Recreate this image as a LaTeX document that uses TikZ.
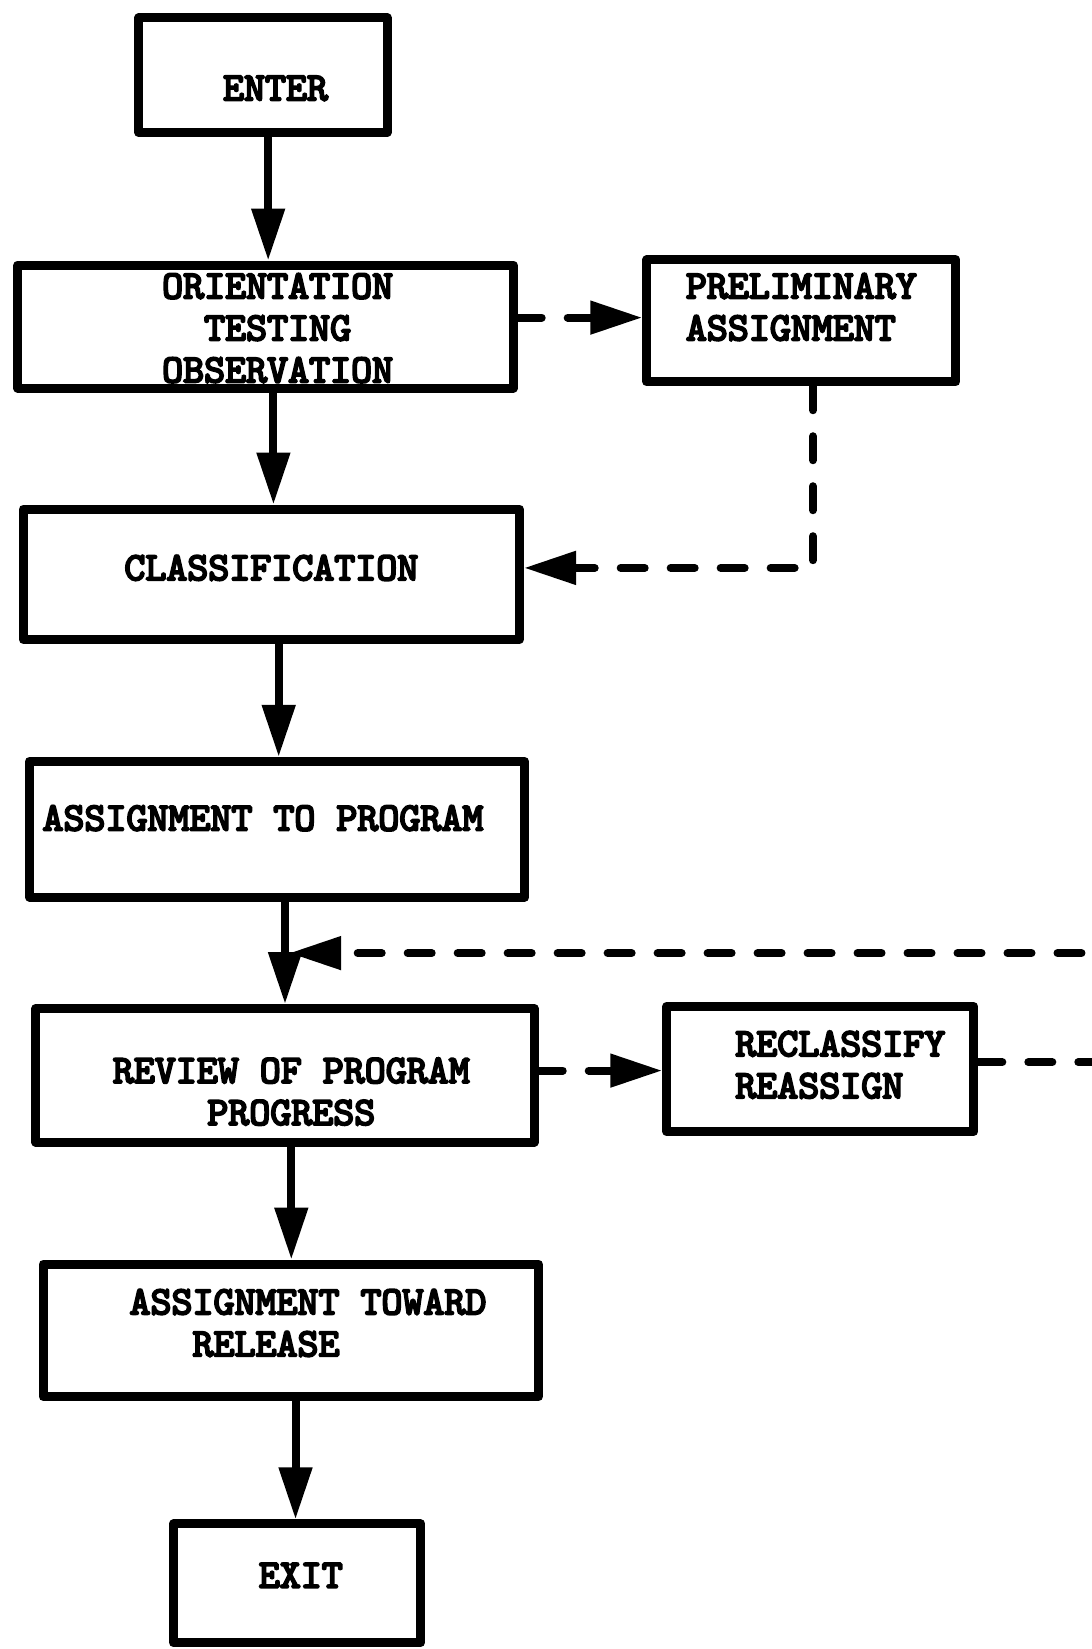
\documentclass[tikz,border=0pt]{standalone}
\usepackage{fontspec}
\newfontfamily\boxfont{lmmono10-regular.otf}[FakeBold=5]
\usetikzlibrary{arrows.meta,calc}
\begin{document}
\begin{tikzpicture}[x=1.052pt, y=-1.052pt,
  box/.style={draw, line width=9pt, inner sep=0pt, line join=round},
  sz/.style 2 args={minimum width=1.052pt*#1, minimum height=1.052pt*#2},
  lbl/.style={inner sep=0pt, font=\boxfont\fontsize{40}{42}\selectfont},
  flow/.style={line width=8pt, -{Triangle[length=52pt,width=32pt]}},
  side/.style={line width=8pt, line cap=round, dash pattern=on 24pt off 26pt,
               -{Triangle[length=52pt,width=32pt]}}]
\useasboundingbox (0,0) rectangle (1038,1568);

% boxes of the main column
\node[box, sz={236}{109}] (enter)  at (250,71.5)   {};
\node[box, sz={471}{117}] (orient) at (252.5,310.5) {};
\node[box, sz={472}{124}] (class)  at (258,546)    {};
\node[box, sz={471}{129}] (assign) at (263.5,788.5) {};
\node[box, sz={474}{127}] (review) at (271,1022.5) {};
\node[box, sz={471}{126}] (toward) at (276.5,1265) {};
\node[box, sz={235}{113}] (exit)   at (282.5,1505.5) {};

% side boxes
\node[box, sz={294}{116}] (prelim)  at (762,305)    {};
\node[box, sz={292}{119}] (reclass) at (780,1016.5) {};

% labels
\node[lbl] (enter-t) at (262,84) {ENTER};
\node[lbl, align=center] (orient-t) at (264,312) {ORIENTATION\\TESTING\\OBSERVATION};
\node[lbl, align=left, anchor=west] (prelim-t) at (652,292) {PRELIMINARY\\ASSIGNMENT};
\node[lbl] (class-t) at (258,540) {CLASSIFICATION};
\node[lbl] (assign-t) at (250,778) {ASSIGNMENT TO PROGRAM};
\node[lbl, align=center] (review-t) at (277,1038) {REVIEW OF PROGRAM\\PROGRESS};
\node[lbl, align=left, anchor=west] (reclass-t) at (699,1012.5) {RECLASSIFY\\REASSIGN};
\node[lbl, align=left, anchor=west] (toward-t) at (123,1258) {ASSIGNMENT TOWARD\\\hspace*{1.575em}RELEASE};
\node[lbl] (exit-t) at (286,1498) {EXIT};

% main flow
\draw[flow] ([shift={(5,0)}]enter.south)   -- ([shift={(2.5,0)}]orient.north);
\draw[flow] ([shift={(7.5,0)}]orient.south) -- ([shift={(2,0)}]class.north);
\draw[flow] ([shift={(7,0)}]class.south)   -- ([shift={(1.5,0)}]assign.north);
\draw[flow] ([shift={(7.5,0)}]assign.south) -- (review.north);
\draw[flow] ([shift={(6,0)}]review.south)  -- ([shift={(0.5,0)}]toward.north);
\draw[flow] ([shift={(4.5,0)}]toward.south) -- ([shift={(-1.5,0)}]exit.north);

% side paths
\draw[side] ([shift={(0,-8.5)}]orient.east) -- ([shift={(0,-3)}]prelim.west);
\draw[side] ([shift={(11,0)}]prelim.south) |- ([shift={(0,-6)}]class.east);
\draw[side] ([shift={(0,-4.5)}]review.east) -- ([shift={(0,1.5)}]reclass.west);
\coordinate (merge) at ($(assign.south)+(11.5,49)$);
\draw[side] ([shift={(0,-6.5)}]reclass.east) -- ++(116,0) |- (merge);
\end{tikzpicture}
\end{document}
